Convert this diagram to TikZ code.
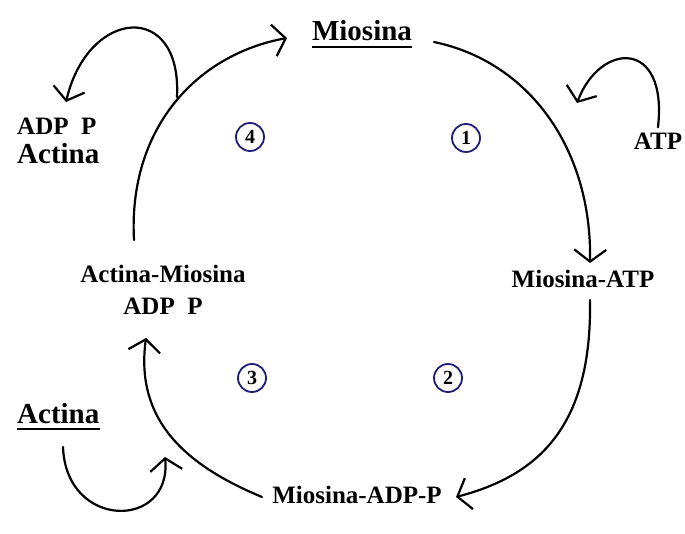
\documentclass[tikz,border=0pt]{standalone}
\usepackage{fontspec}
\setmainfont{Liberation Serif}
\usetikzlibrary{arrows.meta}
\definecolor{navy}{RGB}{30,30,120}
\tikzset{
  lbl/.style={inner sep=0pt, anchor=base, font=\bfseries\fontsize{25}{30}\selectfont},
  biglbl/.style={lbl, font=\bfseries\fontsize{29}{34}\selectfont},
  flow/.style={line width=2.2pt, line cap=round, -{Straight Barb[length=12pt, width=32pt, line width=2.2pt]}},
  stepnum/.style={circle, draw=navy, line width=1.8pt, inner sep=0pt, minimum size=28pt,
                  font=\bfseries\fontsize{20}{22}\selectfont},
  uline/.style={line width=2pt}
}
\begin{document}
\begin{tikzpicture}[x=1pt,y=-1pt]
\useasboundingbox (0,0) rectangle (685,534);
\fill[white] (0,0) rectangle (685,534);
% labels
\node[biglbl] (mio) at (362,41) {Miosina};
\node[lbl, anchor=base west] (adp1) at (17,135) {ADP~~P};
\node[biglbl, anchor=base west] (act1) at (17,164) {Actina};
\node[lbl] (atp) at (658,150) {ATP};
\node[lbl] (mioatp) at (583,288) {Miosina-ATP};
\node[lbl] (actmio) at (163,283) {Actina-Miosina};
\node[lbl] (adp2) at (163,315) {ADP~~P};
\node[biglbl, anchor=base west] (act2) at (17,423) {Actina};
\node[lbl] (mioadp) at (357,503) {Miosina-ADP-P};
\draw[uline] ([yshift=-6pt]mio.base west) -- ([yshift=-6pt]mio.base east);
\draw[uline] ([yshift=-6pt]act2.base west) -- ([yshift=-6pt]act2.base east);
% step numbers
\node[stepnum] (s4) at (250,137) {4};
\node[stepnum] (s1) at (466,138) {1};
\node[stepnum] (s3) at (252,378) {3};
\node[stepnum] (s2) at (448,378) {2};
% connectors
\coordinate (a1s) at (434,42);
\coordinate (a1e) at (590,263);
\draw[flow] (a1s) .. controls (530,62) and (592,150) .. (a1e);
\coordinate (j1) at (577,103);
\draw[flow] ([yshift=6pt]atp.north) .. controls (668,38) and (600,42) .. (j1);
\coordinate (a3s) at (590,300);
\coordinate (a3e) at (456,497);
\draw[flow] (a3s) .. controls (592,425) and (540,475) .. (a3e);
\coordinate (a4s) at (262,497);
\coordinate (a4e) at (146,338);
\draw[flow] (a4s) .. controls (185,465) and (135,420) .. (a4e);
\coordinate (a5s) at (63,447);
\coordinate (j5) at (165,457);
\draw[flow] (a5s) .. controls (66,530) and (172,530) .. (j5);
\coordinate (a6s) at (134,240);
\coordinate (a6e) at (287,38);
\draw[flow] (a6s) .. controls (128,130) and (195,55) .. (a6e);
\coordinate (j7) at (177,97);
\coordinate (a7e) at (66,102);
\draw[flow] (j7) .. controls (182,0) and (88,8) .. (a7e);
\end{tikzpicture}
\end{document}
